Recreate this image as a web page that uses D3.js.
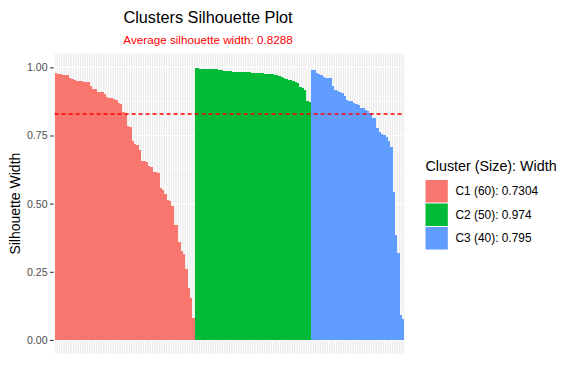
<!DOCTYPE html>
<html>
<head>
<meta charset="utf-8">
<script src="https://cdn.jsdelivr.net/npm/d3@7"></script>
<style>
  html, body { margin: 0; padding: 0; background: #ffffff; }
  svg { display: block; font-family: "Liberation Sans", Arial, sans-serif; }
</style>
</head>
<body>
<svg id="chart" width="576" height="384"></svg>
<script>
// ---- data ----
const clusterNames = ["C1", "C2", "C3"];
const clusterColors = ["#F8766D", "#00BA38", "#619CFF"];
const legendLabels = ["C1 (60): 0.7304", "C2 (50): 0.974", "C3 (40): 0.795"];
const c1Widths = [0.980,0.976,0.976,0.972,0.972,0.972,0.961,0.957,0.954,0.950,
  0.950,0.950,0.946,0.946,0.946,0.932,0.921,0.921,0.910,0.910,
  0.910,0.902,0.891,0.888,0.888,0.884,0.880,0.869,0.866,0.836,
  0.833,0.785,0.781,0.730,0.719,0.715,0.697,0.656,0.656,0.653,
  0.638,0.634,0.616,0.616,0.612,0.557,0.550,0.535,0.513,0.510,
  0.491,0.422,0.422,0.359,0.326,0.315,0.260,0.191,0.154,0.081];
const c2Widths = [0.999,0.999,0.995,0.995,0.995,0.995,0.995,0.995,0.995,0.995,
  0.992,0.992,0.988,0.988,0.988,0.988,0.984,0.984,0.984,0.984,
  0.984,0.984,0.984,0.984,0.981,0.981,0.981,0.981,0.981,0.981,
  0.977,0.977,0.977,0.977,0.973,0.973,0.970,0.966,0.962,0.959,
  0.955,0.955,0.951,0.948,0.944,0.929,0.926,0.918,0.878,0.874];
const c3Widths = [0.990,0.990,0.979,0.975,0.972,0.964,0.961,0.961,0.961,0.931,
  0.917,0.913,0.909,0.906,0.895,0.880,0.876,0.876,0.869,0.865,
  0.861,0.851,0.851,0.843,0.840,0.832,0.814,0.814,0.777,0.763,
  0.755,0.752,0.744,0.730,0.708,0.543,0.385,0.319,0.092,0.077];
const avgWidth = 0.8288;
const yTicks = [0, 0.25, 0.5, 0.75, 1];
const yMinorTicks = [0.125, 0.375, 0.625, 0.875];
const titleText = "Clusters Silhouette Plot";
const subtitleText = "Average silhouette width: 0.8288";
const yTitle = "Silhouette Width";
const legendTitle = "Cluster (Size): Width";

// ---- build rows ----
const rows = [];
[c1Widths, c2Widths, c3Widths].forEach((arr, ci) => {
  arr.forEach(v => rows.push({ id: rows.length + 1, cluster: ci, value: v }));
});

const svg = d3.select("#chart");
const panel = { left: 54.6, right: 404.4, top: 53.7, bottom: 353.6 };

const x = d3.scaleBand()
  .domain(rows.map(d => d.id))
  .range([panel.left, panel.right])
  .paddingInner(0)
  .paddingOuter(0.1);

const y = d3.scaleLinear()
  .domain([-0.05, 1.05])
  .range([panel.bottom, panel.top]);

// panel background
svg.append("rect")
  .attr("x", panel.left).attr("y", panel.top)
  .attr("width", panel.right - panel.left)
  .attr("height", panel.bottom - panel.top)
  .attr("fill", "#EBEBEB");

// minor horizontal gridlines
svg.append("g").selectAll("line").data(yMinorTicks).join("line")
  .attr("x1", panel.left).attr("x2", panel.right)
  .attr("y1", d => y(d)).attr("y2", d => y(d))
  .attr("stroke", "#ffffff").attr("stroke-width", 0.6);

// major vertical gridlines (one per observation)
svg.append("g").selectAll("line").data(rows).join("line")
  .attr("x1", d => x(d.id) + x.bandwidth() / 2)
  .attr("x2", d => x(d.id) + x.bandwidth() / 2)
  .attr("y1", panel.top).attr("y2", panel.bottom)
  .attr("stroke", "#ffffff").attr("stroke-width", 1);

// major horizontal gridlines
svg.append("g").selectAll("line").data(yTicks).join("line")
  .attr("x1", panel.left).attr("x2", panel.right)
  .attr("y1", d => y(d)).attr("y2", d => y(d))
  .attr("stroke", "#ffffff").attr("stroke-width", 1.1);

// bars
svg.append("g").selectAll("rect").data(rows).join("rect")
  .attr("x", d => x(d.id))
  .attr("width", x.bandwidth() + 0.05)
  .attr("y", d => y(d.value))
  .attr("height", d => y(0) - y(d.value))
  .attr("fill", d => clusterColors[d.cluster])
  .attr("shape-rendering", "crispEdges");

// average line
svg.append("line")
  .attr("x1", panel.left).attr("x2", panel.right)
  .attr("y1", y(avgWidth)).attr("y2", y(avgWidth))
  .attr("stroke", "#FF0000").attr("stroke-width", 1.3)
  .attr("stroke-dasharray", "4,3");

// y axis
const yAxis = d3.axisLeft(y)
  .tickValues(yTicks)
  .tickFormat(d3.format(".2f"))
  .tickSize(3.5)
  .tickPadding(2.5);
const yg = svg.append("g")
  .attr("transform", `translate(${panel.left - 1},0)`)
  .call(yAxis);
yg.select(".domain").remove();
yg.selectAll(".tick line").attr("stroke", "#333333").attr("stroke-width", 1.1);
yg.selectAll(".tick text")
  .attr("fill", "#4D4D4D")
  .style("font-size", "10.6px")
  .style("font-family", "'Liberation Sans', Arial, sans-serif");

// y title
svg.append("text")
  .attr("transform", `translate(20,${(panel.top + panel.bottom) / 2}) rotate(-90)`)
  .attr("text-anchor", "middle")
  .style("font-size", "14px")
  .attr("fill", "#000")
  .text(yTitle);

// title & subtitle
svg.append("text")
  .attr("x", 208).attr("y", 22.5)
  .attr("text-anchor", "middle")
  .style("font-size", "16.3px")
  .attr("fill", "#000")
  .text(titleText);
svg.append("text")
  .attr("x", 208).attr("y", 43.5)
  .attr("text-anchor", "middle")
  .style("font-size", "11.7px")
  .attr("fill", "#FF0000")
  .text(subtitleText);

// legend
const lg = svg.append("g");
lg.append("text")
  .attr("x", 425.5).attr("y", 171)
  .style("font-size", "14.3px")
  .attr("fill", "#000")
  .text(legendTitle);
const keyY = [180, 203.5, 227];
clusterNames.forEach((n, i) => {
  lg.append("rect")
    .attr("x", 425.5).attr("y", keyY[i])
    .attr("width", 22.3).attr("height", 22.5)
    .attr("fill", clusterColors[i]);
  lg.append("text")
    .attr("x", 455.5).attr("y", keyY[i] + 11.25)
    .attr("dy", "0.35em")
    .style("font-size", "11.9px")
    .attr("fill", "#000")
    .text(legendLabels[i]);
});
</script>
</body>
</html>
